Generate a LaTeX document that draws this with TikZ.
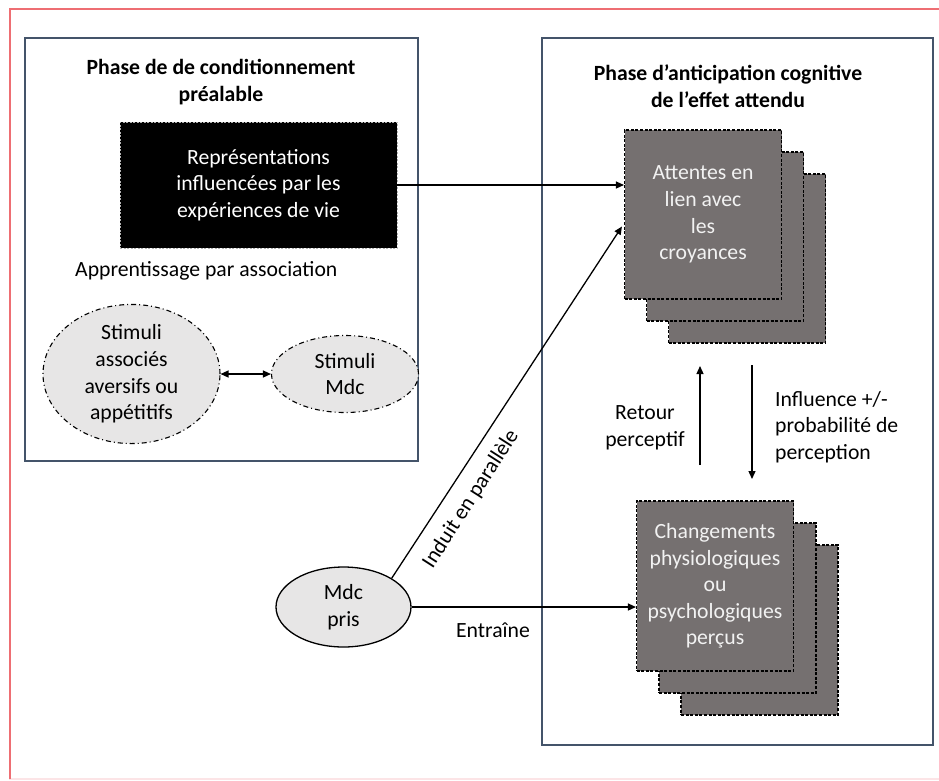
\documentclass[tikz,border=0pt]{standalone}
\usepackage{fontspec}
\setmainfont{Carlito}
\usetikzlibrary{arrows.meta,shapes.geometric}
\definecolor{frameblue}{HTML}{44546A}
\definecolor{boxgray}{HTML}{757070}
\definecolor{ellgray}{HTML}{E7E6E6}
\definecolor{redframe}{HTML}{EE6E73}
\definecolor{palepink}{HTML}{FCE4E6}
\definecolor{txtlight}{HTML}{F2F2F2}
\tikzset{
  txt/.style={font=\fontsize{21.7}{26.6}\selectfont, align=center, inner sep=0pt, text=black},
  ttl/.style={txt, font=\fontsize{21.7}{26.6}\selectfont\bfseries},
  phasebox/.style={draw=frameblue, line width=1.3pt},
  graybox/.style={draw=black, dashed, dash pattern=on 3pt off 1.6pt, line width=1.1pt, fill=boxgray,
     txt, text=txtlight},
  blackbox/.style={draw=gray!60, dash pattern=on 2pt off 1.5pt, line width=0.9pt, fill=black, txt, text=white},
  dashell/.style={ellipse, draw=black, line width=1.1pt, dash pattern=on 5pt off 3pt on 1pt off 3pt, fill=ellgray, txt, inner sep=0pt},
  arr/.style={line width=1.3pt, -{Triangle[length=8pt,width=7pt]}},
  darr/.style={line width=1.3pt, {Triangle[length=8pt,width=7pt]}-{Triangle[length=8pt,width=7pt]}},
}
\begin{document}
\begin{tikzpicture}[x=1pt,y=-1pt]
\useasboundingbox (0,0) rectangle (939,780);
% outer frame
\draw[palepink, line width=1.2pt] (9,779) -- (939,779);
\draw[redframe, line width=2pt] (10,779) -- (10,9) -- (939,9);
% phase boxes
\draw[phasebox] (25,38) rectangle (418,461);
\draw[phasebox] (542,38) rectangle (933,745);
% titles
\node[ttl] (t1) at (221,82) {Phase de de conditionnement\\préalable};
\node[ttl] (t2) at (728,86) {Phase d’anticipation cognitive\\de l’effet attendu};
% black box
\node[blackbox, minimum width=277pt, minimum height=126pt] (rep) at (258.5,185) {Représentations\\influencées par les\\expériences de vie};
\node[txt, anchor=west] (app) at (75,271) {Apprentissage par association};
% ellipses
\node[dashell, minimum width=177pt, minimum height=138pt] (e1) at (131.5,374) {Stimuli\\associés\\aversifs ou\\appétitifs};
\node[dashell, minimum width=147pt, minimum height=77pt] (e2) at (345,374) {Stimuli\\Mdc};
\draw[darr] (e1.east) -- (e2.west);
% Attentes stack
\node[graybox, minimum width=157pt, minimum height=169pt] (att3) at (747,258.5) {};
\node[graybox, minimum width=157pt, minimum height=169pt] (att2) at (725,236.5) {};
\node[graybox, minimum width=157pt, minimum height=169pt] (att) at (703,214.5) {Attentes en\\lien avec\\les\\croyances};
% Changements stack
\node[graybox, minimum width=157pt, minimum height=170pt] (chg3) at (759.5,630) {};
\node[graybox, minimum width=157pt, minimum height=170pt] (chg2) at (737.5,608) {};
\node[graybox, minimum width=157pt, minimum height=170pt] (chg) at (715,586) {Changements\\physiologiques\\ou\\psychologiques\\perçus};
% Mdc pris
\node[ellipse, draw=black, line width=1.3pt, fill=ellgray, txt, minimum width=135pt, minimum height=80pt] (mdc) at (343.5,607) {Mdc\\pris};
% arrows
\draw[arr] (rep.east) -- (rep.east -| att.west);
\draw[arr] (mdc.north east) -- ([xshift=-2pt,yshift=-12pt]att.west);
\draw[arr] (mdc.east) -- (mdc.east -| chg.west);
\coordinate (upa) at (700,465);
\coordinate (upb) at (700,366);
\coordinate (dna) at (752,365);
\coordinate (dnb) at (752,479);
\draw[arr] (upa) -- (upb);
\draw[arr] (dna) -- (dnb);
% labels
\node[txt] (ret) at (645,428) {Retour\\perceptif};
\node[txt, anchor=west, align=left] (inf) at (775,427) {Influence +/-\\probabilité de\\perception};
\node[txt] (ent) at (493,630) {Entraîne};
\node[txt, rotate=57.3] (ind) at (471,499) {Induit en parallèle};
\end{tikzpicture}
\end{document}
